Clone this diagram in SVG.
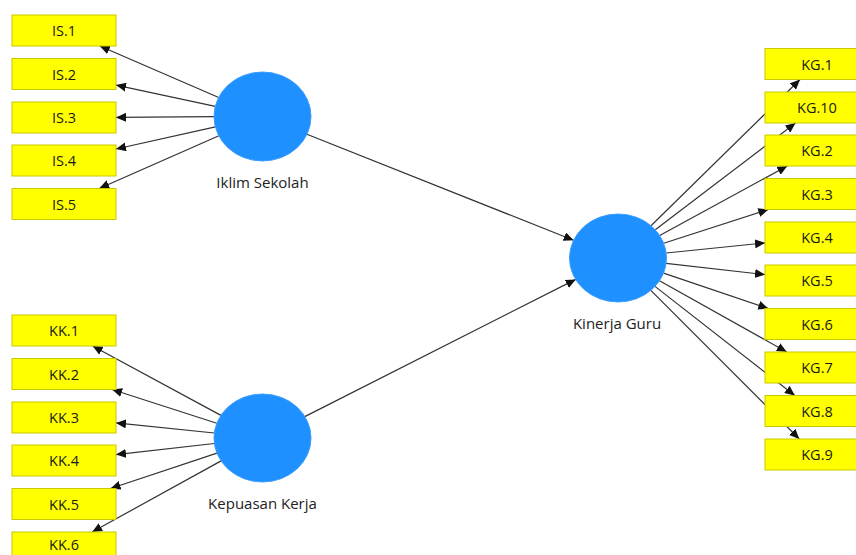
<svg xmlns="http://www.w3.org/2000/svg" width="856" height="555" viewBox="0 0 856 555">
<defs>
<marker id="ah" viewBox="0 0 10 9" refX="10" refY="4.5" markerWidth="10" markerHeight="9" markerUnits="userSpaceOnUse" orient="auto"><path d="M0,0 L10,4.5 L0,9 z" fill="#111"/></marker>
<style>
.ln{stroke:#333;stroke-width:1.2;fill:none;marker-end:url(#ah)}
.bx{fill:#ffff00;stroke:#c8c800;stroke-width:1}
.bt{font-family:"Open Sans","Liberation Sans",sans-serif;font-size:14.5px;fill:#1a1a1a;text-anchor:middle}
.lv{fill:#1e90ff;stroke:#3a9dff;stroke-width:1}
.lt{font-family:"Open Sans","Liberation Sans",sans-serif;font-size:15px;fill:#222;text-anchor:middle}
</style>
</defs>
<rect width="856" height="555" fill="#fff"/>
<g id="connectors">
<line class="ln" x1="306.9" y1="134.2" x2="573.6" y2="240.3"/>
<line class="ln" x1="304.8" y1="416.6" x2="575.7" y2="279.4"/>
<line class="ln" x1="218.7" y1="97.5" x2="99.8" y2="46"/>
<line class="ln" x1="215.3" y1="106.4" x2="116" y2="85.1"/>
<line class="ln" x1="214" y1="116.6" x2="116" y2="117.4"/>
<line class="ln" x1="215.4" y1="126.9" x2="116" y2="149"/>
<line class="ln" x1="218.9" y1="135.7" x2="99.2" y2="188.5"/>
<line class="ln" x1="220.9" y1="415.4" x2="92.6" y2="346"/>
<line class="ln" x1="216.8" y1="423.3" x2="112.1" y2="389.5"/>
<line class="ln" x1="214.3" y1="433" x2="116" y2="422.9"/>
<line class="ln" x1="214.4" y1="443.5" x2="116" y2="454.6"/>
<line class="ln" x1="217" y1="453.1" x2="110.6" y2="488.5"/>
<line class="ln" x1="221.1" y1="460.9" x2="92.1" y2="532"/>
<line class="ln" x1="651" y1="225.8" x2="800" y2="79.5"/>
<line class="ln" x1="655.3" y1="229.8" x2="795.5" y2="123"/>
<line class="ln" x1="659.7" y1="235.5" x2="787.3" y2="166"/>
<line class="ln" x1="663.7" y1="243.3" x2="768.3" y2="209.5"/>
<line class="ln" x1="666.2" y1="253" x2="765" y2="242.9"/>
<line class="ln" x1="666.1" y1="263.4" x2="765" y2="274.6"/>
<line class="ln" x1="663.6" y1="273.1" x2="768.3" y2="308.5"/>
<line class="ln" x1="659.5" y1="280.8" x2="786.8" y2="352"/>
<line class="ln" x1="655" y1="286.4" x2="794.8" y2="395.5"/>
<line class="ln" x1="650.8" y1="290.4" x2="799.3" y2="439"/>
</g>
<g id="iklim-sekolah"><ellipse class="lv" cx="262.5" cy="116.5" rx="48.5" ry="44.5"/><text class="lt" x="262.5" y="188">Iklim Sekolah</text></g>
<g id="kepuasan-kerja"><ellipse class="lv" cx="262.5" cy="438" rx="48.5" ry="44"/><text class="lt" x="262.5" y="509">Kepuasan Kerja</text></g>
<g id="kinerja-guru"><ellipse class="lv" cx="618" cy="258" rx="48.5" ry="44"/><text class="lt" x="617" y="329">Kinerja Guru</text></g>
<g id="IS1"><rect class="bx" x="12" y="15" width="104" height="31"/><text class="bt" x="64" y="36">IS.1</text></g>
<g id="IS2"><rect class="bx" x="12" y="58.5" width="104" height="31"/><text class="bt" x="64" y="79.5">IS.2</text></g>
<g id="IS3"><rect class="bx" x="12" y="102" width="104" height="31"/><text class="bt" x="64" y="123">IS.3</text></g>
<g id="IS4"><rect class="bx" x="12" y="145" width="104" height="31"/><text class="bt" x="64" y="166">IS.4</text></g>
<g id="IS5"><rect class="bx" x="12" y="188.5" width="104" height="31"/><text class="bt" x="64" y="209.5">IS.5</text></g>
<g id="KK1"><rect class="bx" x="12" y="315" width="104" height="31"/><text class="bt" x="64" y="336">KK.1</text></g>
<g id="KK2"><rect class="bx" x="12" y="358.5" width="104" height="31"/><text class="bt" x="64" y="379.5">KK.2</text></g>
<g id="KK3"><rect class="bx" x="12" y="402" width="104" height="31"/><text class="bt" x="64" y="423">KK.3</text></g>
<g id="KK4"><rect class="bx" x="12" y="445" width="104" height="31"/><text class="bt" x="64" y="466">KK.4</text></g>
<g id="KK5"><rect class="bx" x="12" y="488.5" width="104" height="31"/><text class="bt" x="64" y="509.5">KK.5</text></g>
<g id="KK6"><rect class="bx" x="12" y="532" width="104" height="31"/><text class="bt" x="64" y="550">KK.6</text></g>
<g id="KG1"><rect class="bx" x="765" y="48.5" width="104" height="31"/><text class="bt" x="817" y="69.5">KG.1</text></g>
<g id="KG10"><rect class="bx" x="765" y="92" width="104" height="31"/><text class="bt" x="817" y="113">KG.10</text></g>
<g id="KG2"><rect class="bx" x="765" y="135" width="104" height="31"/><text class="bt" x="817" y="156">KG.2</text></g>
<g id="KG3"><rect class="bx" x="765" y="178.5" width="104" height="31"/><text class="bt" x="817" y="199.5">KG.3</text></g>
<g id="KG4"><rect class="bx" x="765" y="222" width="104" height="31"/><text class="bt" x="817" y="243">KG.4</text></g>
<g id="KG5"><rect class="bx" x="765" y="265" width="104" height="31"/><text class="bt" x="817" y="286">KG.5</text></g>
<g id="KG6"><rect class="bx" x="765" y="308.5" width="104" height="31"/><text class="bt" x="817" y="329.5">KG.6</text></g>
<g id="KG7"><rect class="bx" x="765" y="352" width="104" height="31"/><text class="bt" x="817" y="373">KG.7</text></g>
<g id="KG8"><rect class="bx" x="765" y="395.5" width="104" height="31"/><text class="bt" x="817" y="416.5">KG.8</text></g>
<g id="KG9"><rect class="bx" x="765" y="439" width="104" height="31"/><text class="bt" x="817" y="460">KG.9</text></g>
</svg>
